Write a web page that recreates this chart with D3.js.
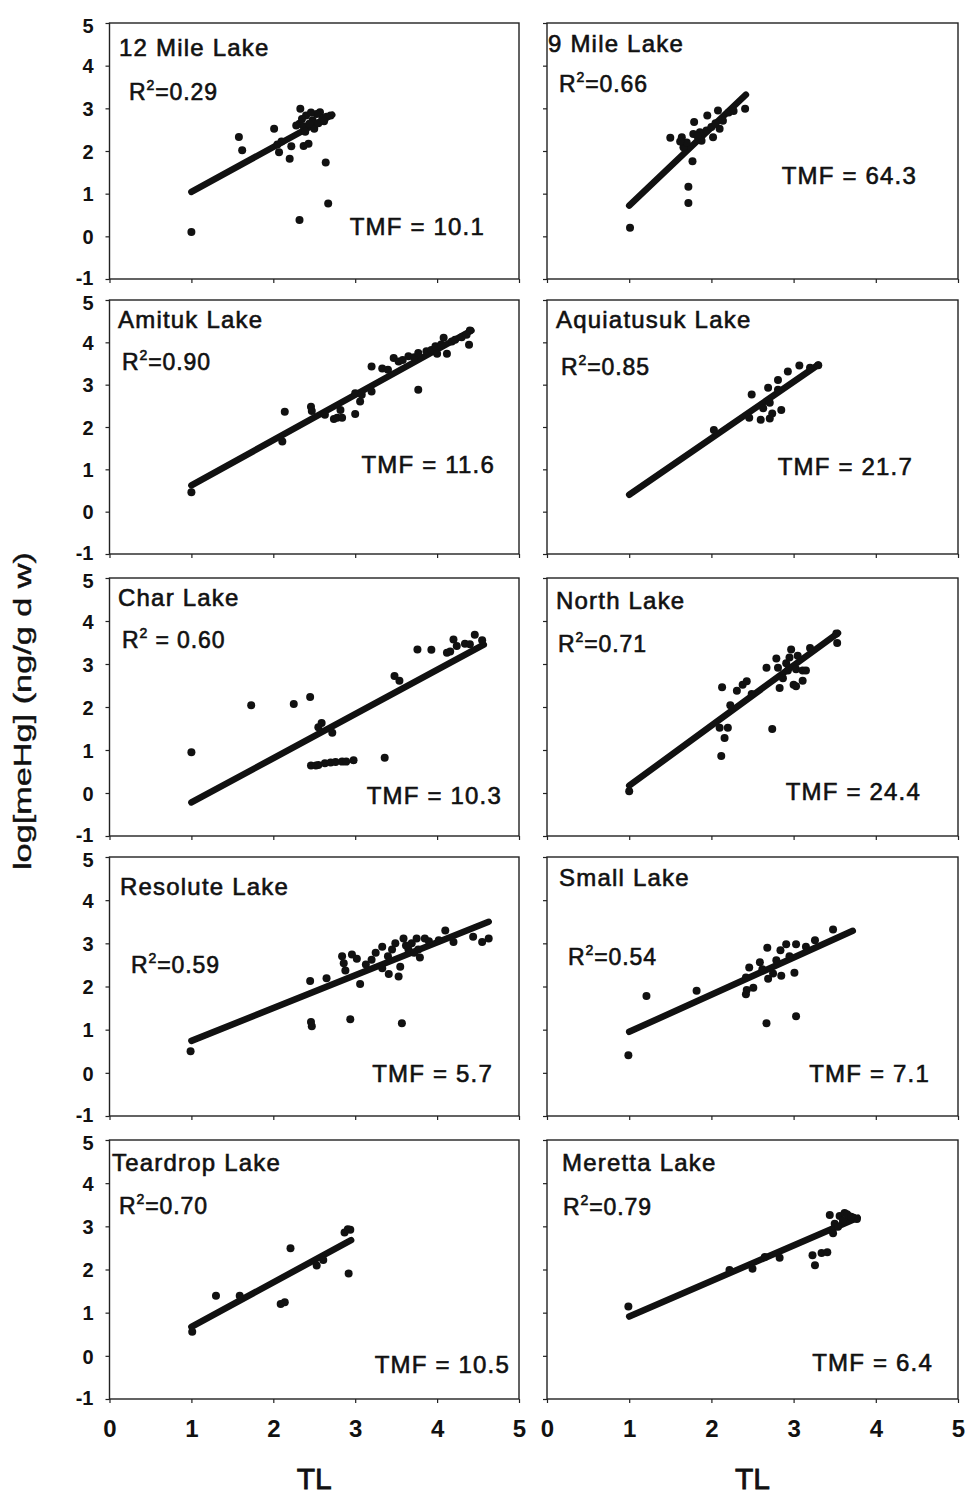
<!DOCTYPE html>
<html>
<head>
<meta charset="utf-8">
<script src="https://cdn.jsdelivr.net/npm/d3@7"></script>
<style>
  html, body { margin: 0; padding: 0; background: #fff; }
  svg { display: block; }
</style>
</head>
<body>
<svg id="chart" width="969" height="1495"></svg>
<script>
// ---------------- DATA ----------------
const lakeNames = ["12 Mile Lake", "9 Mile Lake", "Amituk Lake", "Aquiatusuk Lake", "Char Lake",
                   "North Lake", "Resolute Lake", "Small Lake", "Teardrop Lake", "Meretta Lake"];
const r2Values = ["=0.29", "=0.66", "=0.90", "=0.85", " = 0.60", "=0.71", "=0.59", "=0.54", "=0.70", "=0.79"];
const tmfValues = ["TMF = 10.1", "TMF = 64.3", "TMF = 11.6", "TMF = 21.7", "TMF = 10.3",
                   "TMF = 24.4", "TMF = 5.7", "TMF = 7.1", "TMF = 10.5", "TMF = 6.4"];
const xTicks = [0, 1, 2, 3, 4, 5];
const yTicks = [-1, 0, 1, 2, 3, 4, 5];
const xLabel = "TL";
const yLabel = "log[meHg] (ng/g d w)";

const pts12Mile = [[1.0,0.10],[1.58,2.33],[1.62,2.02],[2.01,2.52],[2.05,2.15],[2.07,1.97],[2.10,2.22],[2.20,1.82],
  [2.22,2.11],[2.37,2.12],[2.43,2.17],[2.32,0.38],[2.64,1.73],[2.67,0.77],[2.33,2.99],[2.57,2.91],[2.70,2.83],
  [2.40,2.83],[2.48,2.72],[2.32,2.64],[2.50,2.52],[2.37,2.58],[2.44,2.64],[2.60,2.77],[2.65,2.80],[2.53,2.87],
  [2.39,2.45],[2.46,2.90],[2.55,2.65],[2.62,2.70],[2.35,2.75],[2.28,2.60]];
const pts9Mile = [[1.01,0.20],[1.72,1.16],[1.72,0.78],[1.77,1.76],[1.50,2.31],[1.64,2.32],[1.66,2.09],[1.70,2.20],
  [1.78,2.40],[1.79,2.68],[1.86,2.44],[1.88,2.24],[1.94,2.48],[1.95,2.83],[2.00,2.56],[2.02,2.32],[2.08,2.95],
  [2.10,2.52],[2.14,2.71],[2.21,2.90],[2.27,2.94],[2.41,2.99],[1.62,2.22],[1.83,2.35],[2.05,2.65]];
const ptsAmituk = [[1.0,0.46],[2.11,1.66],[2.14,2.36],[2.46,2.48],[2.47,2.38],[2.63,2.29],[2.74,2.19],[2.78,2.22],
  [2.82,2.40],[2.84,2.22],[3.00,2.31],[3.00,2.80],[3.06,2.60],[3.08,2.76],[3.20,2.84],[3.20,3.43],[3.33,3.38],
  [3.40,3.35],[3.47,3.63],[3.53,3.55],[3.58,3.58],[3.65,3.67],[3.72,3.65],[3.77,3.75],[3.77,2.88],[3.87,3.79],
  [3.93,3.82],[3.98,3.91],[4.00,3.73],[4.05,3.95],[4.08,4.11],[4.12,3.73],[4.18,4.02],[4.22,4.06],[4.30,4.12],
  [4.39,3.94],[4.40,4.28],[4.36,4.18]];
const ptsAquiatusuk = [[2.03,1.93],[2.46,2.22],[2.49,2.77],[2.60,2.17],[2.63,2.44],[2.69,2.93],[2.71,2.20],[2.74,2.32],
  [2.71,2.57],[2.81,3.11],[2.81,2.88],[2.85,2.40],[2.93,3.31],[3.07,3.45],[3.20,3.40],[3.30,3.46]];
const ptsChar = [[1.0,0.95],[1.73,2.04],[2.25,2.07],[2.45,2.23],[2.59,1.63],[2.55,1.53],[2.72,1.40],[2.46,0.64],
  [2.52,0.64],[2.55,0.65],[2.63,0.69],[2.70,0.71],[2.76,0.72],[2.84,0.73],[2.89,0.73],[2.98,0.76],[3.36,0.82],
  [3.48,2.72],[3.54,2.61],[3.76,3.34],[3.93,3.33],[4.12,3.26],[4.16,3.29],[4.20,3.57],[4.24,3.42],[4.34,3.47],
  [4.40,3.46],[4.46,3.68],[4.55,3.55]];
const ptsNorth = [[1.0,0.04],[2.12,0.86],[2.16,1.28],[2.10,1.52],[2.20,1.52],[2.13,2.46],[2.23,2.04],[2.31,2.38],
  [2.38,2.52],[2.43,2.60],[2.49,2.30],[2.67,2.91],[2.74,1.49],[2.79,3.13],[2.81,2.91],[2.83,2.44],[2.87,2.67],
  [2.91,3.02],[2.93,2.85],[2.95,3.15],[2.97,3.34],[3.00,2.52],[3.03,2.48],[3.05,3.19],[3.03,2.88],[3.11,2.85],
  [3.15,2.85],[3.11,2.61],[3.20,3.37],[3.52,3.71],[3.53,3.49]];
const ptsResolute = [[0.99,0.50],[2.46,1.18],[2.47,1.08],[2.94,1.24],[3.57,1.15],[2.45,2.13],[2.65,2.19],[2.84,2.70],
  [2.96,2.74],[2.88,2.37],[2.86,2.54],[3.02,2.64],[3.06,2.06],[3.13,2.51],[3.20,2.62],[3.33,2.92],[3.33,2.42],
  [3.41,2.29],[3.53,2.23],[3.55,2.46],[3.45,2.86],[3.49,3.00],[3.59,3.11],[3.65,2.86],[3.69,3.00],[3.75,3.11],
  [3.79,2.67],[3.77,2.86],[3.85,3.11],[3.62,2.95],[3.72,2.78],[3.90,3.05],[4.02,3.07],[4.10,3.30],[4.20,3.03],
  [4.44,3.15],[4.55,3.03],[4.63,3.11],[3.40,2.70],[3.25,2.78]];
const ptsSmall = [[0.99,0.41],[1.21,1.78],[1.82,1.90],[2.42,1.82],[2.43,1.92],[2.51,1.97],[2.42,2.21],[2.46,2.44],
  [2.59,2.56],[2.67,1.15],[2.68,2.90],[2.69,2.18],[2.75,2.30],[2.79,2.61],[2.85,2.25],[2.84,2.84],[2.91,2.98],
  [3.01,2.32],[3.03,1.31],[3.03,2.98],[3.15,2.92],[3.26,3.07],[3.48,3.32],[2.62,2.40],[2.95,2.70]];
const ptsTeardrop = [[1.01,0.56],[1.30,1.39],[1.59,1.39],[2.09,1.20],[2.14,1.24],[2.21,2.49],[2.53,2.09],[2.61,2.22],
  [2.87,2.86],[2.91,2.93],[2.94,2.92],[2.92,1.91]];
const ptsMeretta = [[0.99,1.14],[2.22,1.99],[2.50,2.02],[2.65,2.29],[2.83,2.27],[3.23,2.33],[3.26,2.10],[3.34,2.38],
  [3.41,2.40],[3.44,3.26],[3.48,2.84],[3.50,3.06],[3.56,3.24],[3.62,3.31],[3.67,3.24],[3.73,3.20],[3.77,3.17],
  [3.60,3.13],[3.54,2.99],[3.65,3.28],[3.70,3.22]];

// regression line end points [x1, y1, x2, y2]
const fitLines = [[1.0,1.04,2.72,2.85],[1.0,0.72,2.42,3.32],[1.0,0.62,4.42,4.28],[1.0,0.40,3.30,3.47],
  [1.0,-0.22,4.57,3.45],[1.0,0.17,3.54,3.72],[1.0,0.74,4.63,3.50],[1.0,0.95,3.72,3.29],
  [1.0,0.67,2.95,2.68],[1.0,0.91,3.78,3.20]];

const allPoints = [pts12Mile, pts9Mile, ptsAmituk, ptsAquiatusuk, ptsChar, ptsNorth, ptsResolute, ptsSmall, ptsTeardrop, ptsMeretta];

// ---------------- LAYOUT ----------------
const colX = [[109.5, 519], [547, 958]];
const rowY = [[23, 279], [300, 554], [578, 836], [857, 1116], [1140, 1399]];
// per panel: [titleX, titleY, r2X, r2Y, tmfRightX, tmfY] relative to frame top-left
const labelLayout = [
  [9.5, 33, 19.5, 77, 375.5, 212], [1, 29, 12, 69, 370, 161],
  [8.5, 28, 12.5, 70, 385.5, 173], [9, 28, 14, 75, 366, 175],
  [8.5, 28, 12.5, 70, 392.5, 226], [9, 31, 11, 74, 374, 222],
  [10.5, 38, 21.5, 116, 383.5, 225], [12, 29, 21, 108, 383, 225],
  [2.5, 31, 9.5, 74, 400.5, 233], [15, 31, 16, 75, 386, 231]
];

const FONT = "'Liberation Sans', Arial, Helvetica, sans-serif";
const INK = "#111";
const svg = d3.select("#chart");
svg.append("rect").attr("width", 969).attr("height", 1495).attr("fill", "#fff");

lakeNames.forEach((name, i) => {
  const row = Math.floor(i / 2), col = i % 2;
  const [x0, x1] = colX[col];
  const [y0, y1] = rowY[row];
  const xs = d3.scaleLinear().domain([0, 5]).range([x0, x1]);
  const ys = d3.scaleLinear().domain([-1, 5]).range([y1, y0]);
  const g = svg.append("g");

  // frame
  g.append("rect").attr("x", x0).attr("y", y0).attr("width", x1 - x0).attr("height", y1 - y0)
    .attr("fill", "none").attr("stroke", "#222").attr("stroke-width", 1.4);

  // axes
  const xAxis = d3.axisBottom(xs).tickValues(xTicks).tickSize(4).tickPadding(17)
    .tickFormat(row === 4 ? d3.format("d") : () => "");
  const gx = g.append("g").attr("transform", `translate(0,${y1})`).call(xAxis);
  const yAxis = d3.axisLeft(ys).tickValues(yTicks).tickSize(4).tickPadding(12)
    .tickFormat(col === 0 ? (d => d < 0 ? "-" + Math.abs(d) : String(d)) : () => "");
  const gy = g.append("g").attr("transform", `translate(${x0},0)`).call(yAxis);
  [gx, gy].forEach(a => {
    a.select(".domain").remove();
    a.selectAll(".tick line").attr("stroke", "#222").attr("stroke-width", 1.2);
    a.selectAll(".tick text").attr("font-family", FONT).attr("font-weight", "bold")
      .attr("fill", INK);
  });
  gx.selectAll(".tick text").attr("font-size", 24);
  // nudge the end labels apart so adjacent panels' "-1" and "5" do not collide
  gy.selectAll(".tick text").attr("font-size", 20)
    .attr("dy", d => d === 5 ? "0.45em" : d === -1 ? "0.26em" : "0.36em");

  // regression line
  const f = fitLines[i];
  g.append("line").attr("x1", xs(f[0])).attr("y1", ys(f[1])).attr("x2", xs(f[2])).attr("y2", ys(f[3]))
    .attr("stroke", INK).attr("stroke-width", 6.5).attr("stroke-linecap", "round");

  // points
  g.selectAll("circle.pt").data(allPoints[i]).join("circle").attr("class", "pt")
    .attr("cx", d => xs(d[0])).attr("cy", d => ys(d[1])).attr("r", 4).attr("fill", INK);

  // labels
  const L = labelLayout[i];
  const txt = (x, y) => g.append("text").attr("x", x0 + x).attr("y", y0 + y)
    .attr("font-family", FONT).attr("fill", INK).attr("stroke", INK).attr("stroke-width", 0.6);
  txt(L[0], L[1]).attr("font-size", 24).attr("letter-spacing", 1.2).text(name);
  const r2 = txt(L[2], L[3]).attr("font-size", 23).attr("letter-spacing", 0.9);
  r2.append("tspan").text("R");
  r2.append("tspan").attr("font-size", 14).attr("dy", -10).text("2");
  r2.append("tspan").attr("dy", 10).text(r2Values[i]);
  txt(L[4], L[5]).attr("font-size", 24).attr("letter-spacing", 1.2).attr("text-anchor", "end").text(tmfValues[i]);
});

// axis titles
colX.forEach(([x0, x1]) => {
  svg.append("text").attr("x", (x0 + x1) / 2).attr("y", 1489).attr("text-anchor", "middle")
    .attr("font-family", FONT).attr("font-size", 30).attr("fill", INK).attr("stroke", INK).attr("stroke-width", 0.8)
    .text(xLabel);
});
svg.append("text").attr("transform", "translate(31,711) rotate(-90)").attr("text-anchor", "middle")
  .attr("font-family", FONT).attr("font-size", 23).attr("fill", INK).attr("stroke", INK).attr("stroke-width", 0.4)
  .attr("textLength", 318).attr("lengthAdjust", "spacingAndGlyphs")
  .text(yLabel);
</script>
</body>
</html>
